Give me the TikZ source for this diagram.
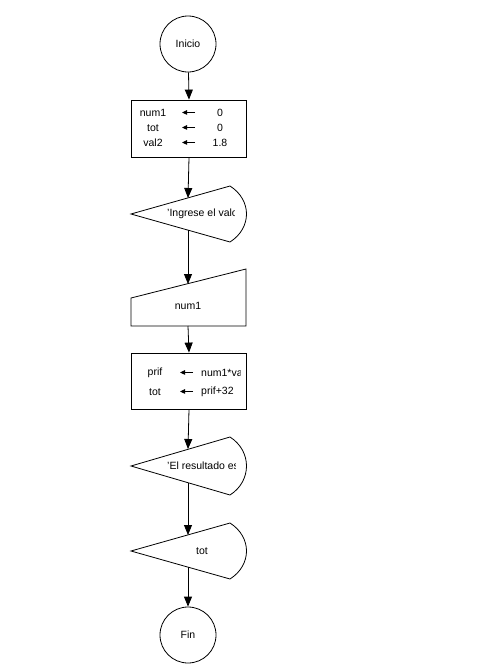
\documentclass[tikz,border=0pt]{standalone}
\usepackage{fontspec}
\setmainfont{Liberation Sans}
\usetikzlibrary{arrows.meta}

\newcommand{\flecha}{\tikz[baseline=-0.6ex]\draw[line width=0.9pt,-{Triangle[length=5pt,width=4.5pt]}] (13pt,0pt) -- (0pt,0pt);}

\tikzset{
    flow/.style={line width=0.8pt, -{Triangle[length=10pt,width=8pt]}},
    term/.style={circle, draw, line width=0.8pt, minimum size=56pt, inner sep=0pt},
    asig/.style={draw, line width=0.8pt, minimum width=115pt, inner sep=0pt},
    shp/.style={draw, line width=0.8pt},
    txt/.style={inner sep=0pt, font=\fontsize{10.5}{12}\selectfont}
}

\begin{document}
\begin{tikzpicture}[x=1pt, y=-1pt, txt]
                \fill[white] (0,0) rectangle (487,667);
                \useasboundingbox (0,0) rectangle (487,667);
                \node[term] (inicio) at (188,44) {Inicio};
                \node[asig, minimum height=57pt] (asig1) at (189,128.5) {};
                \node[txt] (n1) at (153,113) {num1};
                \node[txt] (a1) at (188.5,113) {\flecha};
                \node[txt] (v1) at (220,113) {0};
                \node[txt] (n2) at (153,128) {tot};
                \node[txt] (a2) at (188.5,128) {\flecha};
                \node[txt] (v2) at (220,128) {0};
                \node[txt] (n3) at (153,143) {val2};
                \node[txt] (a3) at (188.5,143) {\flecha};
                \node[txt] (v3) at (220,143) {1.8};
                \draw[shp] (131,214) -- (230,186) .. controls (252,200) and (252,228) .. (230,242) -- cycle;
                \coordinate (sal1in) at (188,198);
                \coordinate (sal1out) at (188,230);
                \begin{scope}
                    \clip (160,200) rectangle (234,228);
                    \node[txt, anchor=west] (msg1) at (167,214) {'Ingrese el valor};
                \end{scope}
                \draw[shp] (131,298) -- (246,269) -- (246,326) -- (131,326) -- cycle;
                \coordinate (entin) at (188,284);
                \coordinate (entout) at (188,326);
                \node[txt] (lee) at (188,306) {num1};
                \node[asig, minimum height=56pt] (asig2) at (189,381) {};
                \node[txt] (p1) at (155,373) {prif};
                \node[txt] (b1) at (186.5,373) {\flecha};
                \node[txt] (p2) at (155,392) {tot};
                \node[txt] (b2) at (186.5,392) {\flecha};
                \node[txt, anchor=west] (q2) at (201,392) {prif+32};
                \begin{scope}
                    \clip (195,365) rectangle (240,382);
                    \node[txt, anchor=west] (q1) at (201,373) {num1*val2};
                \end{scope}
                \draw[shp] (131,466) -- (230,437) .. controls (252,451) and (252,481) .. (230,495) -- cycle;
                \coordinate (sal2in) at (188,449);
                \coordinate (sal2out) at (188,483);
                \begin{scope}
                    \clip (160,452) rectangle (235.5,480);
                    \node[txt, anchor=west] (msg2) at (167,466) {'El resultado es};
                \end{scope}
                \draw[shp] (131,551) -- (230,523) .. controls (252,537) and (252,565) .. (230,579) -- cycle;
                \coordinate (sal3in) at (188,535);
                \coordinate (sal3out) at (188,567);
                \node[txt] (res) at (202,551) {tot};
                \node[term] (fin) at (188,635) {Fin};
                \draw[flow] (inicio) -- (asig1.north);
                \draw[flow] (asig1.south) -- (sal1in);
                \draw[flow] (sal1out) -- (entin);
                \draw[flow] (entout) -- (asig2.north);
                \draw[flow] (asig2.south) -- (sal2in);
                \draw[flow] (sal2out) -- (sal3in);
                \draw[flow] (sal3out) -- (fin);
            \end{tikzpicture}
\end{document}
